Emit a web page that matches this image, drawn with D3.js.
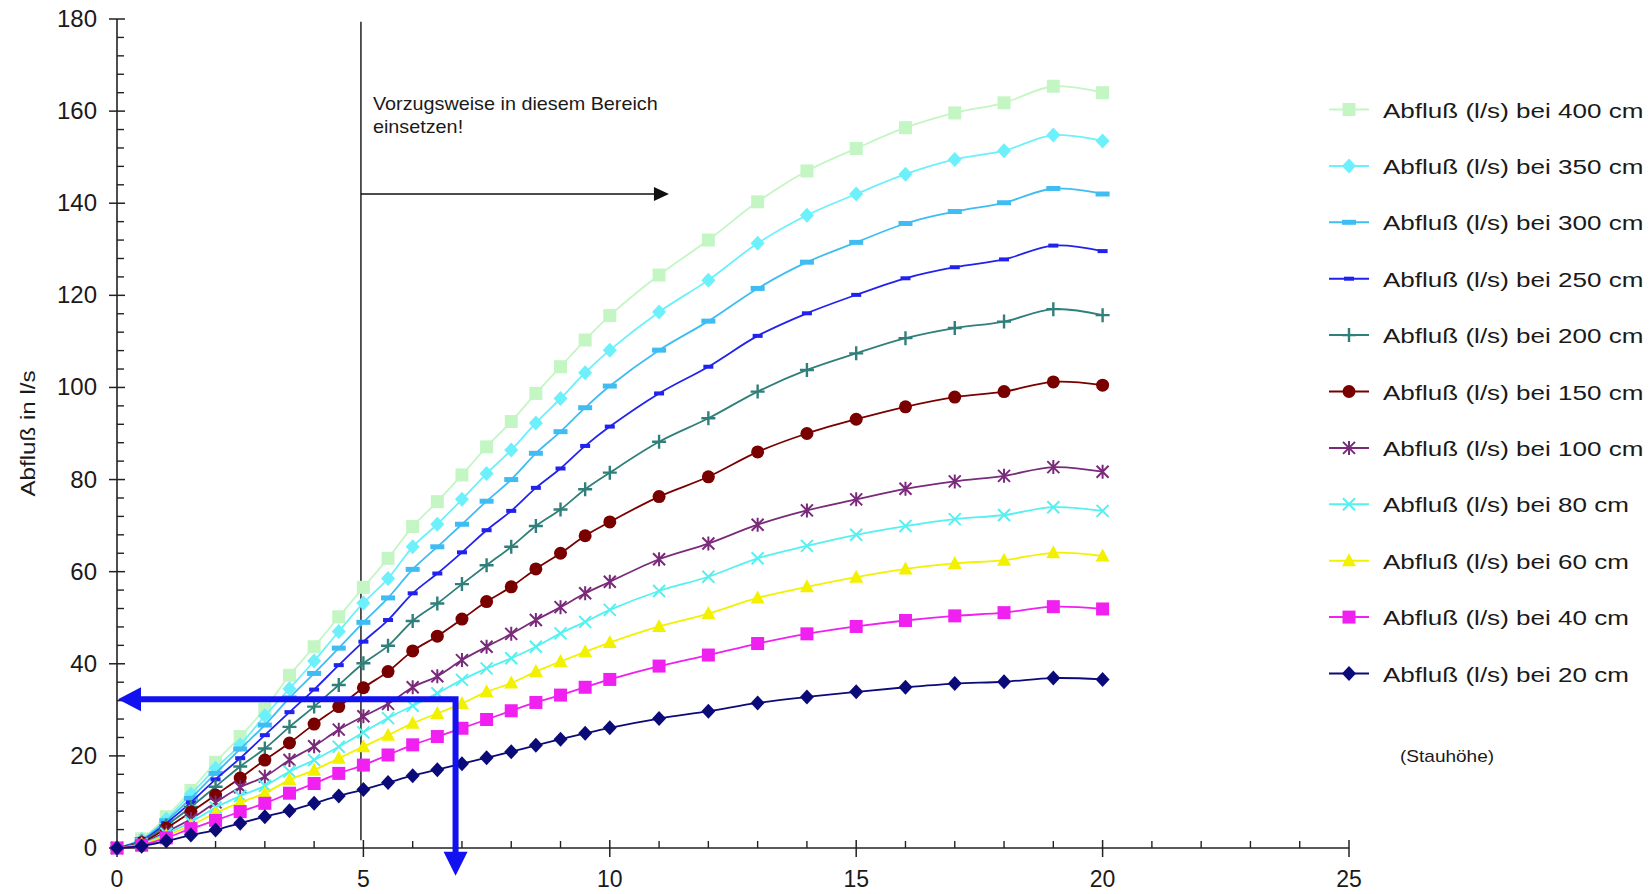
<!DOCTYPE html>
<html>
<head>
<meta charset="utf-8">
<script src="https://cdn.jsdelivr.net/npm/d3@7"></script>
<style>
  body { margin: 0; background: #fff; }
  text { font-family: "Liberation Sans", Arial, sans-serif; fill: #1a1a1a; }
</style>
</head>
<body>
<div id="chart"></div>
<script>
// Flow rates (l/s) over the x positions, one array per Stauhöhe
const xValues = [0, 0.5, 1, 1.5, 2, 2.5, 3, 3.5, 4, 4.5, 5, 5.5, 6, 6.5, 7, 7.5, 8, 8.5, 9, 9.5, 10, 11, 12, 13, 14, 15, 16, 17, 18, 19, 20];

const q400 = [0, 2.0, 6.8, 12.5, 18.6, 24.2, 30.2, 37.5, 43.7, 50.2, 56.6, 62.9, 69.8, 75.2, 81.0, 87.1, 92.6, 98.7, 104.5, 110.3, 115.6, 124.4, 132.0, 140.3, 147.0, 151.9, 156.4, 159.6, 161.8, 165.4, 164.0];
const q350 = [0, 1.9, 6.3, 11.7, 17.3, 22.4, 28.7, 34.6, 40.6, 47.0, 53.2, 58.5, 65.4, 70.3, 75.7, 81.3, 86.4, 92.3, 97.6, 103.2, 108.1, 116.4, 123.3, 131.3, 137.4, 142.0, 146.3, 149.5, 151.4, 154.8, 153.5];
const q300 = [0, 1.8, 5.9, 10.8, 16.2, 21.5, 26.7, 32.6, 37.9, 43.4, 49.0, 54.3, 60.5, 65.4, 70.3, 75.3, 80.0, 85.7, 90.4, 95.6, 100.3, 108.1, 114.4, 121.5, 127.2, 131.5, 135.6, 138.2, 140.1, 143.2, 142.0];
const q250 = [0, 1.6, 5.4, 9.9, 14.9, 19.5, 24.5, 29.5, 34.4, 39.7, 44.8, 49.5, 55.3, 59.6, 64.2, 69.0, 73.2, 78.2, 82.4, 87.3, 91.5, 98.7, 104.5, 111.2, 116.1, 120.1, 123.7, 126.1, 127.8, 130.8, 129.6];
const q200 = [0, 1.4, 4.9, 8.9, 13.3, 17.7, 21.6, 26.3, 30.7, 35.4, 40.1, 43.9, 49.3, 53.1, 57.3, 61.4, 65.4, 69.9, 73.5, 77.9, 81.5, 88.2, 93.3, 99.1, 103.8, 107.4, 110.7, 112.9, 114.3, 117.0, 115.7];
const q150 = [0, 1.2, 4.3, 7.8, 11.5, 15.2, 19.1, 22.8, 26.9, 30.7, 34.8, 38.3, 42.8, 46.0, 49.7, 53.5, 56.7, 60.6, 64.0, 67.8, 70.8, 76.3, 80.6, 86.0, 90.0, 93.1, 95.8, 97.9, 99.1, 101.2, 100.5];
const q100 = [0, 1.0, 3.5, 6.3, 9.9, 13.2, 15.5, 19.1, 22.1, 25.7, 28.6, 31.3, 34.9, 37.3, 40.8, 43.7, 46.5, 49.5, 52.3, 55.3, 57.8, 62.7, 66.1, 70.2, 73.3, 75.7, 78.0, 79.6, 80.8, 82.7, 81.7];
const q80 = [0, 0.9, 3.1, 5.6, 8.8, 11.3, 13.5, 16.6, 19.1, 22.0, 25.1, 28.2, 30.9, 33.6, 36.5, 39.0, 41.2, 43.7, 46.6, 49.1, 51.7, 55.8, 58.9, 62.9, 65.6, 68.0, 69.9, 71.4, 72.3, 74.0, 73.2];
const q60 = [0, 0.8, 2.7, 4.9, 7.6, 9.9, 11.9, 14.8, 16.9, 19.5, 22.0, 24.5, 27.1, 29.2, 31.4, 33.9, 35.8, 38.3, 40.5, 42.6, 44.6, 48.1, 50.9, 54.3, 56.7, 58.8, 60.6, 61.8, 62.5, 64.1, 63.4];
const q40 = [0, 0.6, 2.2, 4.2, 6.0, 7.9, 9.7, 11.9, 14.0, 16.2, 18.0, 20.2, 22.4, 24.2, 26.0, 27.9, 29.8, 31.6, 33.2, 34.9, 36.6, 39.5, 41.9, 44.4, 46.5, 48.1, 49.4, 50.4, 51.1, 52.4, 51.9];
const q20 = [0, 0.4, 1.5, 2.8, 3.9, 5.4, 6.8, 8.1, 9.7, 11.3, 12.7, 14.2, 15.7, 17.0, 18.3, 19.6, 20.9, 22.3, 23.6, 24.9, 26.1, 28.1, 29.7, 31.5, 32.8, 33.9, 34.9, 35.7, 36.1, 36.9, 36.6];

const seriesNames = ["Abfluß (l/s) bei 400 cm", "Abfluß (l/s) bei 350 cm", "Abfluß (l/s) bei 300 cm", "Abfluß (l/s) bei 250 cm",
  "Abfluß (l/s) bei 200 cm", "Abfluß (l/s) bei 150 cm", "Abfluß (l/s) bei 100 cm", "Abfluß (l/s) bei 80 cm",
  "Abfluß (l/s) bei 60 cm", "Abfluß (l/s) bei 40 cm", "Abfluß (l/s) bei 20 cm"];
const seriesValues = [q400, q350, q300, q250, q200, q150, q100, q80, q60, q40, q20];
const seriesColors = ["#c4f6c4", "#6cf0fb", "#3fbdf3", "#2222ee", "#2f7f7a", "#7a0000", "#7a2a7a", "#55f0f0", "#f2f200", "#f020f0", "#0a0a78"];
const seriesMarkers = ["square", "diamond", "dash", "dashSmall", "plus", "circle", "star", "cross", "triangle", "square", "diamond"];

const xTicks = [0, 5, 10, 15, 20, 25];
const yTicks = [0, 20, 40, 60, 80, 100, 120, 140, 160, 180];

// annotation values
const markX = 4.95;            // vertical "Bereich" line
const areaArrowY = 142;        // black arrow height
const areaArrowEnd = 11.2;
const readX = 6.87, readY = 32.3;  // blue reading example
const readBottom = -6;

const width = 1651, height = 894;

const svg = d3.select("#chart").append("svg")
  .attr("width", width)
  .attr("height", height);

svg.append("rect").attr("width", width).attr("height", height).attr("fill", "#fff");

const x = d3.scaleLinear().domain([0, 25]).range([117, 1349]);
const y = d3.scaleLinear().domain([0, 180]).range([848, 19]);

// axes
const axisColor = "#222";
const axes = svg.append("g");

axes.append("line")
  .attr("x1", x(0)).attr("x2", x(25))
  .attr("y1", y(0)).attr("y2", y(0))
  .style("stroke", axisColor).style("stroke-width", 1.6);

axes.append("line")
  .attr("x1", x(0)).attr("x2", x(0))
  .attr("y1", y(0)).attr("y2", y(180))
  .style("stroke", axisColor).style("stroke-width", 1.6);

// minor ticks (inside)
axes.selectAll("line.xminor")
  .data(d3.range(1, 26).filter(d => d % 5 !== 0))
  .enter().append("line")
  .attr("x1", x).attr("x2", x)
  .attr("y1", y(0)).attr("y2", y(0) - 7)
  .style("stroke", axisColor).style("stroke-width", 1.4);

axes.selectAll("line.yminor")
  .data(d3.range(4, 180, 4).filter(d => d % 20 !== 0))
  .enter().append("line")
  .attr("x1", x(0)).attr("x2", x(0) + 7)
  .attr("y1", y).attr("y2", y)
  .style("stroke", axisColor).style("stroke-width", 1.4);

// major ticks (crossing)
axes.selectAll("line.xmajor")
  .data(xTicks)
  .enter().append("line")
  .attr("x1", x).attr("x2", x)
  .attr("y1", y(0) - 8).attr("y2", y(0) + 9)
  .style("stroke", axisColor).style("stroke-width", 1.5);

axes.selectAll("line.ymajor")
  .data(yTicks)
  .enter().append("line")
  .attr("x1", x(0) - 8).attr("x2", x(0) + 8)
  .attr("y1", y).attr("y2", y)
  .style("stroke", axisColor).style("stroke-width", 1.5);

axes.selectAll("text.xlab")
  .data(xTicks)
  .enter().append("text")
  .attr("x", x).attr("y", 887)
  .attr("text-anchor", "middle")
  .style("font-size", "23px")
  .text(d => d);

axes.selectAll("text.ylab")
  .data(yTicks)
  .enter().append("text")
  .attr("x", x(0) - 20).attr("y", d => y(d) + 8)
  .attr("text-anchor", "end")
  .style("font-size", "24px")
  .text(d => d);

svg.append("text")
  .attr("transform", "translate(35," + y(90) + ") rotate(-90) scale(1.15,1)")
  .attr("text-anchor", "middle")
  .style("font-size", "21px")
  .text("Abfluß in l/s");

// "Bereich" marker line and arrow
svg.append("line")
  .attr("x1", x(markX)).attr("x2", x(markX))
  .attr("y1", y(179.4)).attr("y2", y(1.7))
  .style("stroke", "#111").style("stroke-width", 1.4);

svg.append("line")
  .attr("x1", x(markX)).attr("x2", x(areaArrowEnd) - 12)
  .attr("y1", y(areaArrowY)).attr("y2", y(areaArrowY))
  .style("stroke", "#111").style("stroke-width", 1.6);

svg.append("path")
  .attr("d", d3.line()([[x(areaArrowEnd), y(areaArrowY)], [x(areaArrowEnd) - 15, y(areaArrowY) - 7], [x(areaArrowEnd) - 15, y(areaArrowY) + 7]]) + "Z")
  .style("fill", "#111");

const note = svg.append("text")
  .attr("transform", "translate(" + (x(markX) + 12) + ",110) scale(1.1,1)")
  .style("font-size", "18px");
note.append("tspan").attr("x", 0).attr("dy", 0).text("Vorzugsweise in diesem Bereich");
note.append("tspan").attr("x", 0).attr("dy", 23).text("einsetzen!");

// series
const line = d3.line()
  .x(d => x(d[0]))
  .y(d => y(d[1]))
  .curve(d3.curveCatmullRom);

function drawMarker(g, type, color, cx, cy) {
  if (type === "square") {
    g.append("rect").attr("x", cx - 6.5).attr("y", cy - 6.5).attr("width", 13).attr("height", 13).style("fill", color);
  } else if (type === "diamond") {
    g.append("path").attr("d", `M${cx},${cy - 7.5}L${cx + 7},${cy}L${cx},${cy + 7.5}L${cx - 7},${cy}Z`).style("fill", color);
  } else if (type === "dash") {
    g.append("rect").attr("x", cx - 7).attr("y", cy - 2.5).attr("width", 14).attr("height", 5).style("fill", color);
  } else if (type === "dashSmall") {
    g.append("rect").attr("x", cx - 5).attr("y", cy - 2).attr("width", 10).attr("height", 4).style("fill", color);
  } else if (type === "circle") {
    g.append("circle").attr("cx", cx).attr("cy", cy).attr("r", 6.5).style("fill", color);
  } else if (type === "triangle") {
    g.append("path").attr("d", `M${cx},${cy - 7.5}L${cx + 7},${cy + 5.5}L${cx - 7},${cy + 5.5}Z`).style("fill", color);
  } else if (type === "plus") {
    g.append("path").attr("d", `M${cx - 7},${cy}H${cx + 7}M${cx},${cy - 7}V${cy + 7}`)
      .style("stroke", color).style("stroke-width", 2.4).style("fill", "none");
  } else if (type === "cross") {
    g.append("path").attr("d", `M${cx - 6},${cy - 6}L${cx + 6},${cy + 6}M${cx - 6},${cy + 6}L${cx + 6},${cy - 6}`)
      .style("stroke", color).style("stroke-width", 2).style("fill", "none");
  } else if (type === "star") {
    g.append("path").attr("d", `M${cx - 6},${cy - 6}L${cx + 6},${cy + 6}M${cx - 6},${cy + 6}L${cx + 6},${cy - 6}M${cx},${cy - 7}V${cy + 7}`)
      .style("stroke", color).style("stroke-width", 2).style("fill", "none");
  }
}

const plot = svg.append("g");

seriesValues.forEach((vals, i) => {
  const pts = xValues.map((xv, j) => [xv, vals[j]]);
  const g = plot.append("g");
  g.append("path")
    .attr("d", line(pts))
    .style("fill", "none")
    .style("stroke", seriesColors[i])
    .style("stroke-width", 1.8);
  pts.forEach(p => drawMarker(g, seriesMarkers[i], seriesColors[i], x(p[0]), y(p[1])));
});

// blue reading arrows
const blue = "#1212f0";
svg.append("path")
  .attr("d", d3.line()([[x(0) + 20, y(readY)], [x(readX), y(readY)], [x(readX), y(readBottom) - 20]]))
  .style("fill", "none").style("stroke", blue).style("stroke-width", 6);

svg.append("path")
  .attr("d", d3.line()([[x(0) + 1, y(readY)], [x(0) + 24, y(readY) - 12], [x(0) + 24, y(readY) + 12]]) + "Z")
  .style("fill", blue);

svg.append("path")
  .attr("d", d3.line()([[x(readX), y(readBottom)], [x(readX) - 12, y(readBottom) - 24], [x(readX) + 12, y(readBottom) - 24]]) + "Z")
  .style("fill", blue);

// legend
const legend = svg.append("g");
seriesNames.forEach((name, i) => {
  const ly = 109.5 + i * 56.4;
  const g = legend.append("g");
  g.append("line")
    .attr("x1", 1329).attr("x2", 1369)
    .attr("y1", ly).attr("y2", ly)
    .style("stroke", seriesColors[i]).style("stroke-width", 2);
  drawMarker(g, seriesMarkers[i], seriesColors[i], 1349, ly);
  g.append("text")
    .attr("transform", "translate(1383," + (ly + 8) + ") scale(1.24,1)")
    .style("font-size", "21px")
    .text(name);
});

svg.append("text")
  .attr("transform", "translate(1400,762) scale(1.12,1)")
  .style("font-size", "17px")
  .text("(Stauhöhe)");
</script>
</body>
</html>
